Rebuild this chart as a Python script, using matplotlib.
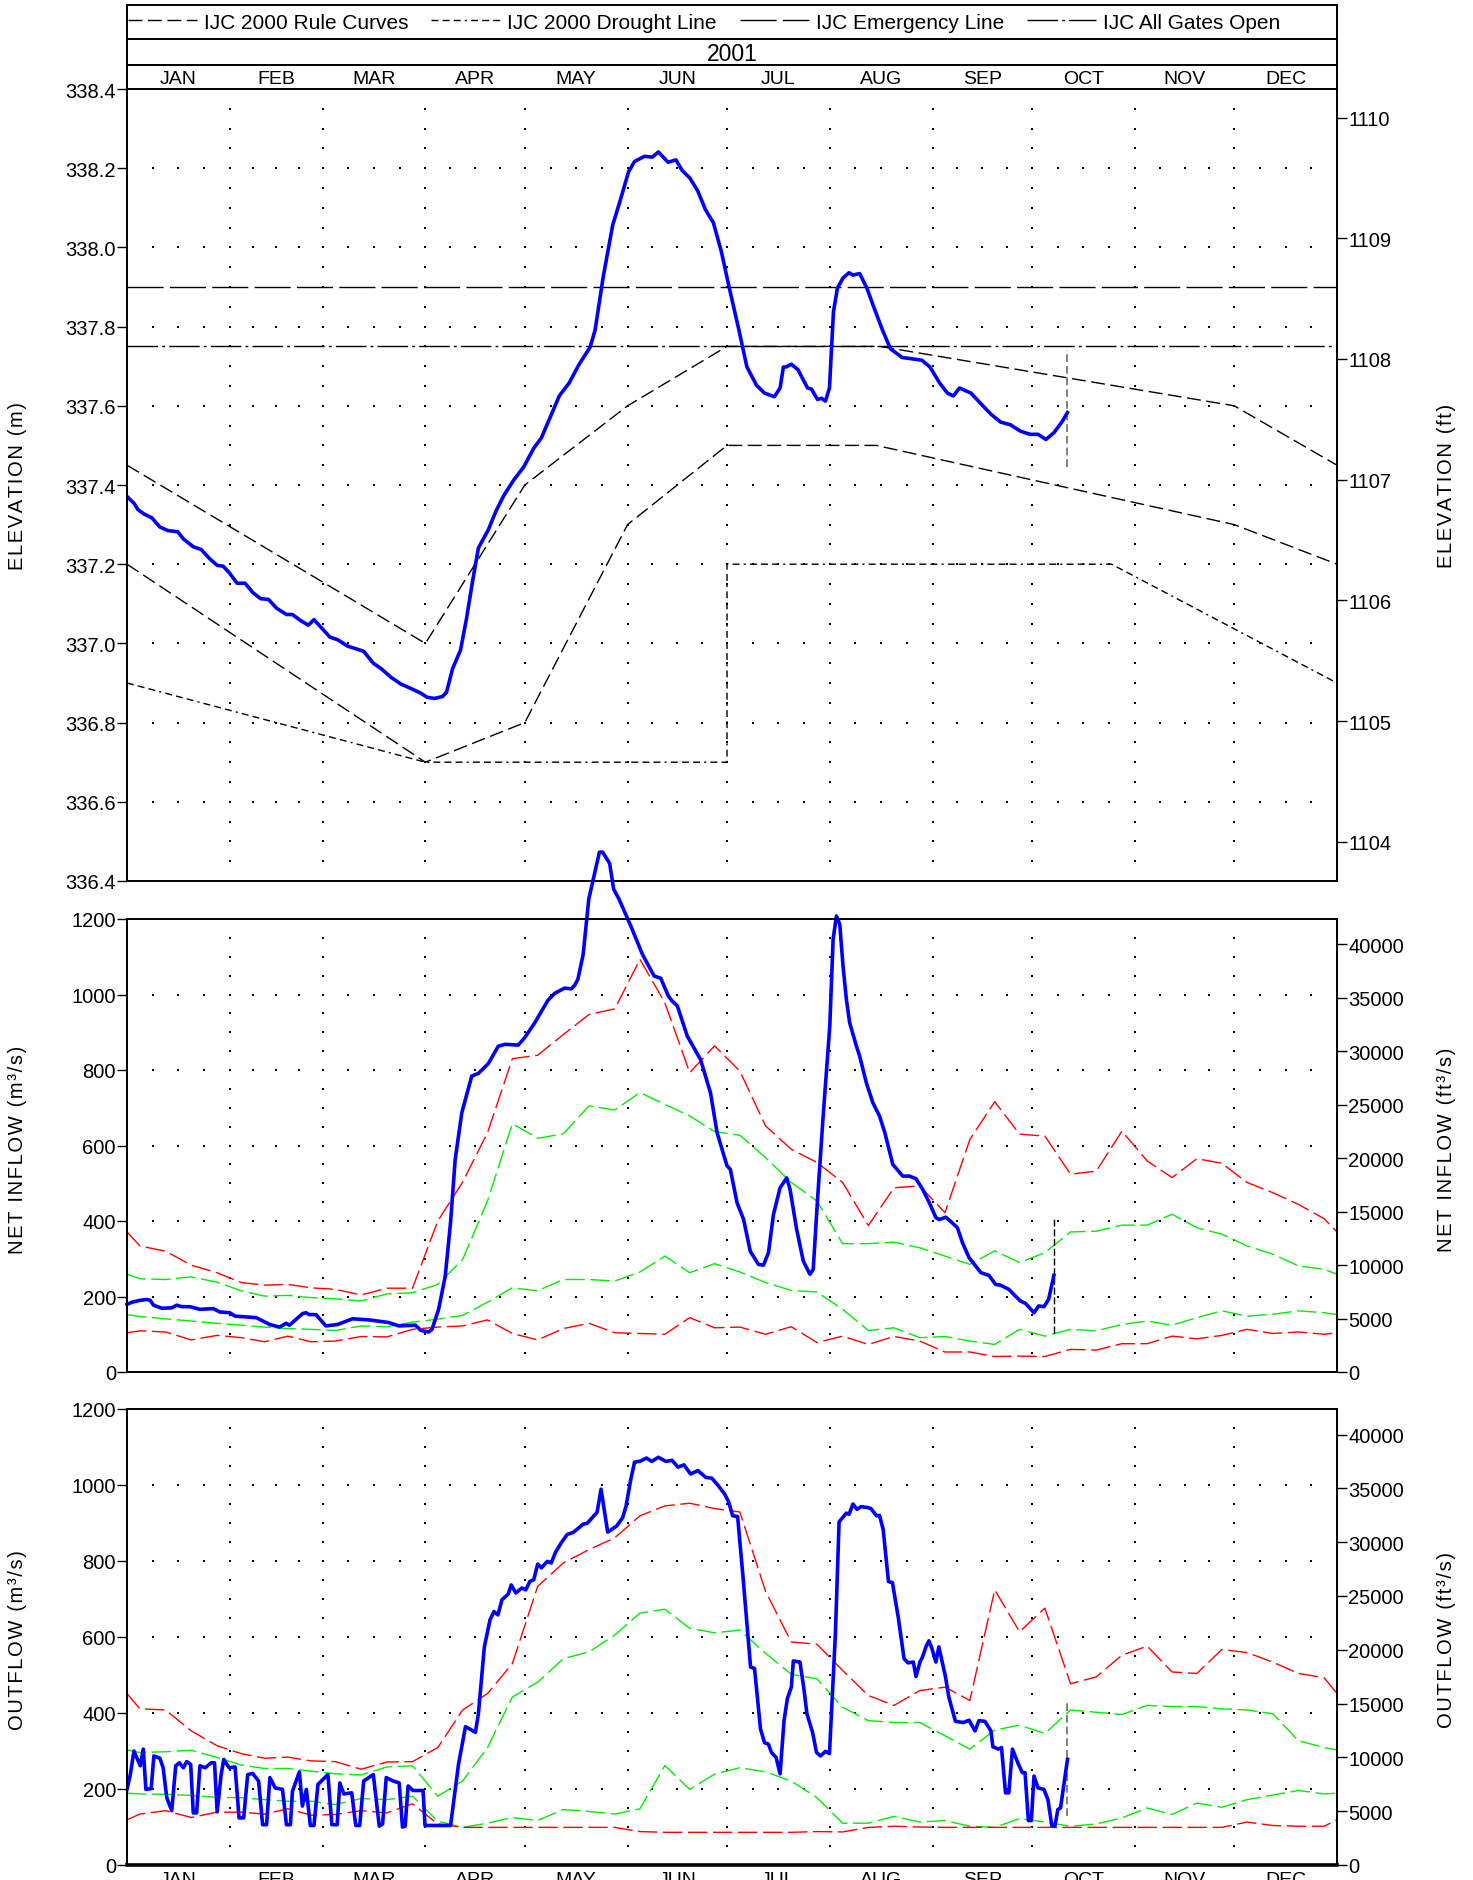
import numpy as np
import matplotlib
matplotlib.use('Agg')
import matplotlib.pyplot as plt

plt.rcParams['font.family'] = ['Liberation Sans', 'DejaVu Sans']

W, H = 1473, 1881
YEAR = '2001'
MONTHS = ['JAN', 'FEB', 'MAR', 'APR', 'MAY', 'JUN', 'JUL', 'AUG', 'SEP', 'OCT', 'NOV', 'DEC']
MONTH_DAYS = [31, 28, 31, 30, 31, 30, 31, 31, 30, 31, 30, 31]

# ---- elevation (m), day of year ----
elev_days = [0, 2.1, 3.3, 5.1, 7.5, 9.9, 12.3, 15.3, 17, 20, 22.4, 24.8, 27.2, 29, 30.8, 33.2, 35.6, 38,
             40.3, 42.7, 45.1, 48.1, 49.9, 52.3, 54.7, 56.4, 57.6, 61.2, 63.6, 66.6, 69.6, 71.4, 74.3, 76.7,
             79.7, 82.7, 85.7, 88.7, 90.5, 92.8, 95.2, 96.4, 98.2, 100.6, 102.4, 104.2, 106, 109, 111.3,
             113.7, 116.7, 119.7, 122.7, 125, 127.4, 130.4, 133.4, 136.4, 139.7, 141.2, 143.6, 146.5, 148.9,
             151.3, 153.1, 156.1, 158.5, 160.3, 163.2, 165.6, 167.4, 169.8, 172.2, 174.5, 176.9, 179.3,
             181.7, 184.6, 187, 189.9, 192.3, 195.3, 197, 198, 198.8, 200.4, 202.4, 205.3, 206.5, 208.3,
             209.5, 210.7, 211.9, 213.1, 214.3, 216, 217.8, 219, 221, 223.2, 225.5, 227.9, 230.3, 233.8,
             237.4, 239.8, 242.2, 245.1, 247.5, 249.3, 251.1, 254.6, 257.6, 260.6, 263.5, 266.5, 269.5,
             272.4, 274.8, 277.2, 279.6, 282, 283.7]
elev_m = [337.371, 337.354, 337.338, 337.327, 337.317, 337.294, 337.285, 337.282, 337.264, 337.244, 337.237,
          337.215, 337.197, 337.195, 337.179, 337.152, 337.152, 337.128, 337.113, 337.111, 337.089, 337.073,
          337.073, 337.058, 337.046, 337.060, 337.049, 337.016, 337.009, 336.993, 336.985, 336.980, 336.950,
          336.936, 336.914, 336.897, 336.886, 336.874, 336.864, 336.861, 336.866, 336.877, 336.936, 336.983,
          337.062, 337.155, 337.241, 337.287, 337.334, 337.374, 337.413, 337.446, 337.493, 337.519, 337.566,
          337.625, 337.658, 337.705, 337.748, 337.791, 337.923, 338.056, 338.122, 338.191, 338.217, 338.230,
          338.228, 338.241, 338.215, 338.221, 338.195, 338.175, 338.142, 338.095, 338.062, 337.989, 337.897,
          337.791, 337.698, 337.652, 337.632, 337.623, 337.645, 337.698, 337.698, 337.705, 337.691, 337.645,
          337.642, 337.616, 337.619, 337.612, 337.645, 337.837, 337.897, 337.923, 337.936, 337.930, 337.934,
          337.897, 337.844, 337.791, 337.744, 337.722, 337.718, 337.715, 337.698, 337.658, 337.632, 337.625,
          337.645, 337.632, 337.605, 337.579, 337.559, 337.552, 337.536, 337.528, 337.528, 337.515, 337.532,
          337.559, 337.583]

# IJC 2000 curves (day, m)
rule_up_days = [0, 90, 120, 151, 181, 227, 334, 365]
rule_up_m = [337.45, 337.0, 337.4, 337.6, 337.75, 337.75, 337.6, 337.45]
rule_lo_days = [0, 90, 120, 151, 181, 226, 334, 365]
rule_lo_m = [337.2, 336.7, 336.8, 337.3, 337.5, 337.5, 337.3, 337.2]
drought_days = [0, 90, 181, 181, 297, 365]
drought_m = [336.9, 336.7, 336.7, 337.2, 337.2, 336.9]
emergency_m = 337.9
gates_open_m = 337.75

# ---- net inflow (m3/s) ----
inflow_days = [0, 1.5, 4, 6, 7, 8, 10.5, 13.5, 15, 16.5, 19, 22, 26, 28, 31, 32.6, 39, 43, 46, 48, 49, 53, 54,
               55, 57, 60, 63.6, 68, 73, 79, 82, 87, 88.7, 91, 92, 94, 96, 97.6, 99, 101, 104, 106, 109, 112,
               114, 118, 120, 123, 127, 129, 132, 134, 135, 136, 137.6, 139.3, 142.5, 143.5, 145.6, 146.8,
               148.4, 152, 155.5, 159, 161, 163.3, 164.4, 166, 169, 173, 176, 178, 181, 182, 184, 186, 188,
               190.5, 192, 193.5, 195, 197, 199, 200, 202, 204, 206, 207, 208.3, 210, 212, 213, 214, 215, 216,
               217, 218, 220, 221, 223, 225, 227, 228.6, 231, 234, 236, 238, 240, 242, 244, 245, 247, 248.7,
               250.5, 252, 254, 256, 257.6, 260, 262, 263.5, 266, 268, 269.5, 271, 273.6, 275, 276.6, 278,
               279.6]
inflow = [179, 185, 190, 192, 190, 177, 169, 170, 177, 173, 173, 166, 168, 159, 157, 148, 144, 126, 119, 129,
          124, 155, 157, 152, 152, 122, 126, 141, 138, 131, 122, 124, 110, 106, 113, 166, 254, 396, 563, 687,
          784, 791, 817, 863, 868, 866, 886, 925, 985, 1003, 1017, 1015, 1024, 1040, 1106, 1253, 1377, 1377,
          1347, 1279, 1253, 1181, 1106, 1049, 1043, 996, 983, 970, 890, 828, 740, 634, 546, 537, 449, 404, 320,
          285, 283, 316, 417, 488, 514, 484, 378, 294, 259, 272, 457, 678, 917, 1146, 1208, 1186, 1075, 987,
          925, 864, 837, 767, 713, 678, 634, 550, 519, 519, 512, 484, 449, 409, 404, 410, 397, 382, 343, 303,
          281, 263, 256, 232, 230, 219, 201, 188, 182, 157, 175, 173, 192, 256]

# quarter-month statistics, first value is Jan 1 (repeated at Dec 31)
in_red_hi = [371, 334, 320, 283, 263, 237, 230, 232, 223, 219, 204, 222, 222, 400, 503, 634, 830, 839, 894, 947,
             962, 1093, 978, 793, 864, 797, 652, 590, 555, 502, 388, 488, 493, 422, 616, 716, 630, 625, 524,
             532, 638, 559, 515, 565, 553, 502, 475, 444, 406]
in_grn_hi = [259, 247, 245, 252, 238, 215, 201, 203, 197, 194, 188, 207, 210, 232, 298, 453, 658, 619, 631, 705,
             694, 740, 709, 678, 637, 627, 568, 502, 453, 340, 340, 344, 329, 307, 285, 321, 290, 316, 371,
             373, 389, 389, 418, 382, 365, 334, 312, 281, 272]
in_grn_lo = [152, 147, 141, 135, 129, 124, 119, 115, 113, 110, 122, 120, 132, 140, 150, 185, 223, 215, 245, 245,
             241, 265, 307, 263, 287, 265, 237, 216, 212, 166, 110, 117, 91, 94, 82, 73, 113, 95, 113, 109,
             126, 135, 124, 144, 162, 148, 153, 162, 157]
in_red_lo = [104, 109, 106, 85, 97, 91, 80, 95, 80, 82, 94, 93, 113, 119, 122, 138, 102, 85, 115, 129, 104,
             102, 100, 144, 117, 119, 100, 120, 78, 95, 73, 94, 82, 53, 53, 41, 42, 41, 60, 58, 75, 75, 95,
             88, 97, 113, 102, 106, 100]

# ---- outflow (m3/s) ----
outflow_days = [0, 1, 2.1, 4, 4.9, 5.7, 7.3, 8.1, 9.9, 10.9, 12, 13.5, 14.7, 15.8, 17, 18, 19.2, 20, 21, 22,
                23.6, 25.4, 26.4, 27.2, 28.4, 29.2, 30.8, 32.6, 33.8, 35.2, 36.4, 37.9, 39.7, 40.9, 42.1, 43.1,
                44.7, 46.9, 48.1, 49.3, 49.9, 52, 52.9, 54.1, 55.3, 56.4, 57.6, 60.6, 61.8, 63.4, 64.2, 65.4,
                67.8, 69, 70.2, 71.4, 74.3, 76.1, 77.1, 78.2, 80.3, 82.1, 83.1, 83.9, 84.8, 86.3, 89.3, 89.9,
                97.6, 100, 102.1, 103.6, 105.1, 106, 107.8, 109.5, 110.7, 111.9, 113.1, 115, 115.9, 117.3,
                119.1, 120.3, 121.5, 122.7, 123.9, 125, 126.8, 128, 129.2, 131, 132.8, 134.6, 136.4, 137.6,
                138.8, 141.8, 143, 145, 147.7, 149.5, 150.5, 152, 153.1, 154.9, 156.7, 158.3, 160.3, 162.6,
                164.4, 166.2, 168, 170, 172.2, 174.6, 176.4, 178.2, 180.3, 181.5, 182.7, 184.2, 185.8, 188.1,
                189.3, 191.1, 192.3, 193.5, 194.4, 195.8, 197, 198.2, 199.2, 200.4, 201, 203, 204.2, 205.1,
                206.8, 208, 209.2, 210.7, 211.9, 213.7, 214.8, 217, 217.8, 219, 220.2, 221.4, 223.2, 224.4,
                226.1, 227, 228.1, 229.7, 230.9, 232.7, 234.4, 235.6, 237.2, 238, 239.2, 240, 241, 241.9,
                242.8, 244, 244.9, 246.9, 247.9, 249.9, 252.3, 254, 255.8, 257, 258.8, 260.6, 261.2, 262.9,
                263.8, 265, 266, 267.1, 268.9, 270.1, 270.9, 271.9, 272.8, 273.6, 274.8, 276.6, 277.8, 279,
                279.9, 280.8, 281.6, 283.7]
outflow = [199, 238, 300, 261, 305, 199, 201, 287, 281, 256, 177, 143, 261, 269, 256, 272, 265, 137, 137, 261,
           256, 269, 269, 140, 238, 278, 256, 258, 124, 124, 238, 241, 221, 106, 106, 230, 203, 199, 106, 106,
           194, 245, 155, 199, 104, 104, 212, 238, 106, 106, 216, 187, 190, 104, 104, 221, 238, 102, 108, 230,
           221, 216, 100, 102, 208, 196, 196, 104, 104, 265, 364, 357, 349, 398, 574, 645, 667, 658, 698, 713,
           737, 716, 729, 724, 746, 751, 792, 782, 799, 795, 822, 848, 870, 875, 888, 897, 899, 928, 989, 876,
           892, 914, 943, 1016, 1060, 1063, 1071, 1062, 1073, 1062, 1065, 1047, 1053, 1029, 1038, 1020, 1018,
           1000, 976, 955, 919, 917, 760, 521, 517, 358, 322, 318, 296, 283, 240, 380, 438, 468, 537, 534, 463,
           398, 349, 296, 287, 299, 293, 610, 903, 926, 923, 950, 936, 943, 941, 938, 919, 920, 883, 746, 743,
           649, 543, 532, 534, 496, 534, 548, 574, 590, 570, 534, 574, 495, 442, 378, 375, 381, 353, 380, 378,
           353, 311, 305, 309, 190, 190, 305, 265, 243, 243, 117, 117, 234, 203, 199, 172, 102, 102, 146, 150,
           278]

out_red_hi = [451, 411, 408, 353, 314, 293, 281, 284, 274, 272, 252, 271, 272, 309, 408, 451, 530, 733, 795,
              830, 861, 919, 945, 952, 938, 929, 720, 587, 581, 512, 446, 420, 459, 468, 433, 724, 614, 676,
              477, 495, 552, 576, 508, 504, 567, 559, 534, 504, 493]
out_grn_hi = [303, 296, 298, 302, 283, 263, 254, 254, 247, 240, 237, 258, 261, 181, 221, 309, 442, 481, 543,
              561, 605, 663, 673, 623, 611, 618, 557, 502, 490, 415, 380, 375, 375, 340, 305, 355, 368, 346,
              408, 402, 396, 420, 417, 417, 411, 408, 398, 327, 309]
out_grn_lo = [189, 187, 186, 183, 178, 177, 172, 168, 168, 159, 175, 172, 181, 115, 99, 110, 125, 117, 146,
              141, 134, 148, 262, 199, 239, 256, 245, 221, 177, 110, 110, 128, 113, 117, 102, 99, 122, 113,
              102, 108, 124, 150, 133, 163, 152, 172, 184, 196, 187]
out_red_lo = [119, 134, 143, 125, 139, 139, 134, 148, 131, 133, 143, 137, 161, 108, 99, 99, 99, 99, 99, 99,
              99, 88, 86, 86, 86, 86, 86, 86, 88, 87, 99, 102, 100, 99, 99, 99, 99, 99, 99, 99, 99, 99, 99,
              99, 99, 113, 104, 102, 102]

# current-date markers (day, low, high)
elev_mark = (283.7, 337.446, 337.74)
inflow_mark = (279.6, 104, 409)
outflow_mark = (283.7, 128, 428)

M_TO_FT = 1 / 0.3048
CMS_TO_CFS = 35.3147

month_start = np.concatenate([[0], np.cumsum(MONTH_DAYS)[:-1]])
month_len = np.array(MONTH_DAYS)
month_mid = month_start + month_len / 2
quarter_mid = (month_start[:, None] + month_len[:, None] * (np.arange(4) + 0.5) / 4).ravel()
quarter_edge = (month_start[:, None] + month_len[:, None] * np.arange(4) / 4).ravel()[1:]
stat_days = np.concatenate([[0], quarter_mid, [365]])


def stat_series(vals):
    return np.concatenate([vals, vals[:1]])


fig = plt.figure(figsize=(W / 100, H / 100), dpi=100)


def fax(top, bottom):
    return fig.add_axes([127 / W, 1 - bottom / H, 1210 / W, (bottom - top) / H])


def spaced(s):
    return '\u200a'.join(s)


def dot_grid(ax, y0, y1, major, minor):
    rows = np.arange(y0 + major, y1 - major / 2, major)
    gx, gy = np.meshgrid(quarter_edge, rows)
    ax.scatter(gx.ravel(), gy.ravel(), s=2.2, marker='s', color='black', linewidths=0, zorder=1)
    ys = np.arange(y0 + minor, y1 - minor / 2, minor)
    gx, gy = np.meshgrid(month_start[1:], ys)
    ax.scatter(gx.ravel(), gy.ravel(), s=2.2, marker='s', color='black', linewidths=0, zorder=1)


def style_axes(ax, ylim, yticks, fmt):
    ax.set_xlim(0, 365)
    ax.set_ylim(*ylim)
    ax.set_yticks(yticks)
    ax.set_yticklabels([fmt.format(v) for v in yticks])
    ax.set_xticks([])
    ax.tick_params(axis='y', direction='out', length=7, width=1, labelsize=14.5, pad=1)
    for sp in ax.spines.values():
        sp.set_linewidth(1.2)


TXT = dict(fontsize=14.5)

# ---------------- elevation ----------------
ax1 = fax(90, 882)
style_axes(ax1, (336.4, 338.4), np.arange(336.4, 338.41, 0.2), '{:.1f}')
dot_grid(ax1, 336.4, 338.4, 0.2, 0.05)
ln_rule, = ax1.plot(rule_up_days, rule_up_m, color='black', lw=1.0, dashes=(10, 4),
                    label='IJC 2000 Rule Curves')
ax1.plot(rule_lo_days, rule_lo_m, color='black', lw=1.0, dashes=(10, 4))
ln_dr, = ax1.plot(drought_days, drought_m, color='black', lw=1.0, dashes=(5, 3, 5, 3, 5, 3, 1.5, 3),
                  label='IJC 2000 Drought Line')
ln_em = ax1.axhline(emergency_m, color='black', lw=1.0, dashes=(26, 4.5), label='IJC Emergency Line')
ln_go = ax1.axhline(gates_open_m, color='black', lw=1.0, dashes=(22, 3, 2, 3), label='IJC All Gates Open')
ax1.plot(elev_days, elev_m, color='#0000ff', lw=2.6, zorder=5)
ax1.vlines(elev_mark[0], elev_mark[1], elev_mark[2], color='#808080', lw=1.4, linestyles=(0, (4, 2)))
ax1r = ax1.twinx()
ax1r.set_ylim(336.4 * M_TO_FT, 338.4 * M_TO_FT)
ax1r.set_yticks(np.arange(1104, 1111, 1))
ax1r.set_yticklabels([str(v) for v in range(1104, 1111)])
ax1r.tick_params(axis='y', direction='out', length=7, width=1, labelsize=14.5, pad=1)
for sp in ax1r.spines.values():
    sp.set_linewidth(1.2)

# ---------------- net inflow ----------------
ax2 = fax(920, 1373)
style_axes(ax2, (0, 1200), np.arange(0, 1201, 200), '{:.0f}')
dot_grid(ax2, 0, 1200, 200, 50)
for vals, col in [(in_red_hi, '#ff0000'), (in_grn_hi, '#00ee00'), (in_grn_lo, '#00ee00'), (in_red_lo, '#ff0000')]:
    ax2.plot(stat_days, stat_series(vals), color=col, lw=1.0, dashes=(14, 4))
ax2.plot(inflow_days, inflow, color='#0000ff', lw=2.6, zorder=5, clip_on=False)
ax2.vlines(inflow_mark[0], inflow_mark[1], inflow_mark[2], color='black', lw=1.0, linestyles=(0, (5, 2)))

# ---------------- outflow ----------------
ax3 = fax(1410, 1866)
style_axes(ax3, (0, 1200), np.arange(0, 1201, 200), '{:.0f}')
dot_grid(ax3, 0, 1200, 200, 50)
for vals, col in [(out_red_hi, '#ff0000'), (out_grn_hi, '#00ee00'), (out_grn_lo, '#00ee00'), (out_red_lo, '#ff0000')]:
    ax3.plot(stat_days, stat_series(vals), color=col, lw=1.0, dashes=(14, 4))
ax3.plot(outflow_days, outflow, color='#0000ff', lw=2.6, zorder=5)
ax3.vlines(outflow_mark[0], outflow_mark[1], outflow_mark[2], color='#808080', lw=1.4, linestyles=(0, (4, 2)))
ax3.spines['bottom'].set_linewidth(2.6)
ax3.set_xticks(month_mid)
ax3.set_xticklabels(MONTHS, fontsize=14)
ax3.tick_params(axis='x', length=0, pad=4)

for ax in (ax2, ax3):
    axr = ax.twinx()
    axr.set_ylim(0, 1200 * CMS_TO_CFS)
    axr.set_yticks(np.arange(0, 40001, 5000))
    axr.set_yticklabels([str(v) for v in range(0, 40001, 5000)])
    axr.tick_params(axis='y', direction='out', length=7, width=1, labelsize=14.5, pad=1)
    for sp in axr.spines.values():
        sp.set_linewidth(1.2)

# axis titles
for ycen, left, right in [(486, 'ELEVATION (m)', 'ELEVATION (ft)'),
                          (1150, 'NET INFLOW (m\u00b3/s)', 'NET INFLOW (ft\u00b3/s)'),
                          (1640, 'OUTFLOW (m\u00b3/s)', 'OUTFLOW (ft\u00b3/s)')]:
    fig.text(18 / W, 1 - ycen / H, spaced(left), rotation=90, ha='center', va='center', fontsize=14.5)
    fig.text(1446 / W, 1 - ycen / H, spaced(right), rotation=90, ha='center', va='center', fontsize=14.5)

# ---------------- header ----------------
hdr_leg = fax(6, 40)
hdr_year = fax(40, 66)
hdr_mon = fax(66, 90)
for ax in (hdr_leg, hdr_year, hdr_mon):
    ax.set_xticks([])
    ax.set_yticks([])
    ax.set_xlim(0, 365)
    ax.set_ylim(0, 1)
    for sp in ax.spines.values():
        sp.set_linewidth(1.4)
hdr_year.text(0.5, 0.45, YEAR, transform=hdr_year.transAxes, ha='center', va='center', fontsize=16.5)
for m, x in zip(MONTHS, month_mid):
    hdr_mon.text(x, 0.42, m, ha='center', va='center', fontsize=14)
hdr_leg.legend(handles=[ln_rule, ln_dr, ln_em, ln_go], loc='center', bbox_to_anchor=(0.477, 0.5),
               ncol=4, frameon=False, fontsize=15, handlelength=3.3, handletextpad=0.35,
               columnspacing=1.1, borderpad=0, borderaxespad=0)

fig.savefig('out.png', dpi=100)
